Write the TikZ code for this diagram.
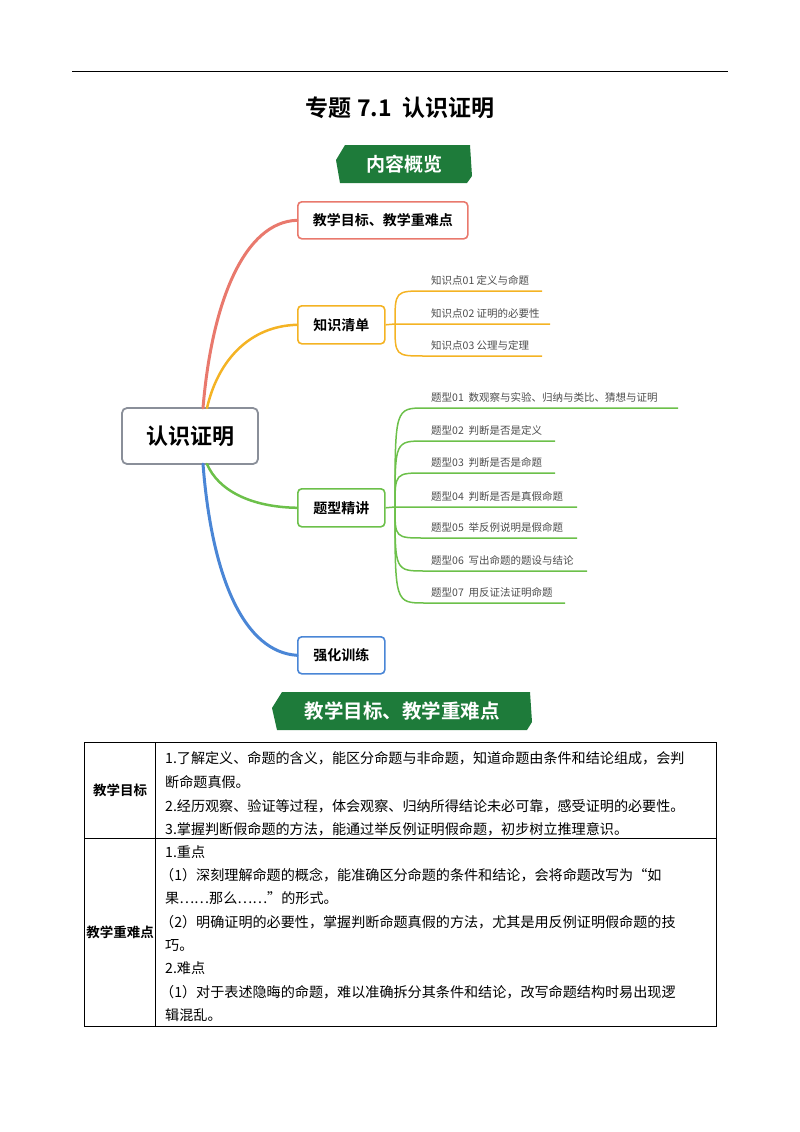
\documentclass[tikz,border=0pt]{standalone}
\usepackage{fontspec}
\setmainfont{Noto Sans CJK SC}[BoldFont={* Bold}]
\setsansfont{Noto Sans CJK SC}[BoldFont={* Bold}]
\definecolor{bgreen}{HTML}{1E7B3A}
\definecolor{cred}{HTML}{E9796D}
\definecolor{corange}{HTML}{F4B324}
\definecolor{cgreen}{HTML}{6CC04A}
\definecolor{cblue}{HTML}{4A86D6}
\definecolor{cgray}{HTML}{8A8F99}
\tikzset{
 branchbox/.style={draw=#1,line width=1.6pt,rounded corners=4pt,fill=white,font=\fontsize{14}{14}\selectfont\bfseries,inner sep=0pt,anchor=north west},
 leaf/.style={font=\fontsize{10.5}{11}\selectfont\color{black!70},anchor=south west,inner sep=1pt},
 tt/.style={font=\fontsize{14.1}{24}\selectfont,anchor=base west,inner sep=0pt},
}
\begin{document}
\begin{tikzpicture}[x=1pt,y=-1pt]
\useasboundingbox (0,0) rectangle (800,1132);
\draw[line width=1pt] (72,72) -- (728,72);
\node[font=\fontsize{23}{23}\selectfont\bfseries] (title) at (400,108) {专题 7.1\ \ 认识证明};
% banner 1
\fill[bgreen] (345,145) -- (470,145) -- (472,176) -- (467,183) -- (340,183) -- (336,160) -- cycle;
\node[font=\fontsize{19}{19}\selectfont\bfseries,text=white] (b1) at (404,164) {内容概览};
% center
\node[draw=cgray,line width=1.8pt,rounded corners=5pt,minimum width=136pt,minimum height=56pt,font=\fontsize{22}{22}\selectfont\bfseries,inner sep=0pt] (c) at (190,436) {认识证明};
% branches
\node[branchbox=cred,minimum width=170pt,minimum height=37pt] (n1) at (297,201) {教学目标、教学重难点};
\node[branchbox=corange,minimum width=87pt,minimum height=38pt] (n2) at (297,305) {知识清单};
\node[branchbox=cgreen,minimum width=87pt,minimum height=38pt] (n3) at (297,488) {题型精讲};
\node[branchbox=cblue,minimum width=87pt,minimum height=37pt] (n4) at (297,636) {强化训练};
\draw[cred,line width=3pt,line cap=round] (203,408) .. controls (212,300) and (245,222) .. (n1.west);
\draw[corange,line width=2.5pt,line cap=round] (207,408) .. controls (218,360) and (250,326) .. (n2.west);
\draw[cgreen,line width=2.5pt,line cap=round] (207,464) .. controls (218,490) and (250,507) .. (n3.west);
\draw[cblue,line width=3pt,line cap=round] (203,464) .. controls (212,580) and (245,652) .. (n4.west);
% knowledge list
\coordinate (f2) at (395,324);
\draw[corange,line width=1.5pt] (n2.east) -- (f2) -- (550,324);
\draw[corange,line width=1.5pt] (f2) .. controls (395,291) .. (425,291) -- (542,291);
\draw[corange,line width=1.5pt] (f2) .. controls (395,356) .. (425,356) -- (542,356);
\node[leaf] (k1) at (430,287) {知识点01 定义与命题};
\node[leaf] (k2) at (430,320) {知识点02 证明的必要性};
\node[leaf] (k3) at (430,352) {知识点03 公理与定理};
% types
\coordinate (f3) at (395,507);
\draw[cgreen,line width=1.5pt] (n3.east) -- (f3) -- (577,507);
\foreach \yy/\xe in {408/678,441/555,473/555,538/577,571/587,603/565}{
 \draw[cgreen,line width=1.5pt] (f3) .. controls (395,\yy) .. (425,\yy) -- (\xe,\yy);
}
\node[leaf] (t1) at (430,404) {题型01\ \ 数观察与实验、归纳与类比、猜想与证明};
\node[leaf] (t2) at (430,437) {题型02\ \ 判断是否是定义};
\node[leaf] (t3) at (430,469) {题型03\ \ 判断是否是命题};
\node[leaf] (t4) at (430,503) {题型04\ \ 判断是否是真假命题};
\node[leaf] (t5) at (430,534) {题型05\ \ 举反例说明是假命题};
\node[leaf] (t6) at (430,567) {题型06\ \ 写出命题的题设与结论};
\node[leaf] (t7) at (430,599) {题型07\ \ 用反证法证明命题};
% banner 2
\fill[bgreen] (282,692) -- (530,692) -- (532,722) -- (527,730) -- (277,730) -- (272,708) -- cycle;
\node[font=\fontsize{19.5}{19.5}\selectfont\bfseries,text=white] (b2) at (402,711) {教学目标、教学重难点};
% table
\draw[line width=0.9pt] (84,742) rectangle (716,1026);
\draw[line width=0.9pt] (155,742) -- (155,1026);
\draw[line width=0.9pt] (84,838) -- (716,838);
\node[font=\fontsize{13.5}{13.5}\selectfont\bfseries] (l1) at (120,790) {教学目标};
\node[font=\fontsize{13.5}{13.5}\selectfont\bfseries] (l2) at (120,932) {教学重难点};
\node[tt] (r1) at (165,763) {1.了解定义、命题的含义，能区分命题与非命题，知道命题由条件和结论组成，会判};
\node[tt] (r2) at (165,787) {断命题真假。};
\node[tt] (r3) at (165,811) {2.经历观察、验证等过程，体会观察、归纳所得结论未必可靠，感受证明的必要性。};
\node[tt] (r4) at (165,834) {3.掌握判断假命题的方法，能通过举反例证明假命题，初步树立推理意识。};
\node[tt] (s1) at (165,857) {1.重点};
\node[tt] (s2) at (160,880) {（1）深刻理解命题的概念，能准确区分命题的条件和结论，会将命题改写为“如};
\node[tt] (s3) at (165,903) {果……那么……”的形式。};
\node[tt] (s4) at (160,927) {（2）明确证明的必要性，掌握判断命题真假的方法，尤其是用反例证明假命题的技};
\node[tt] (s5) at (165,950) {巧。};
\node[tt] (s6) at (165,973) {2.难点};
\node[tt] (s7) at (160,997) {（1）对于表述隐晦的命题，难以准确拆分其条件和结论，改写命题结构时易出现逻};
\node[tt] (s8) at (165,1020) {辑混乱。};
\end{tikzpicture}
\end{document}
